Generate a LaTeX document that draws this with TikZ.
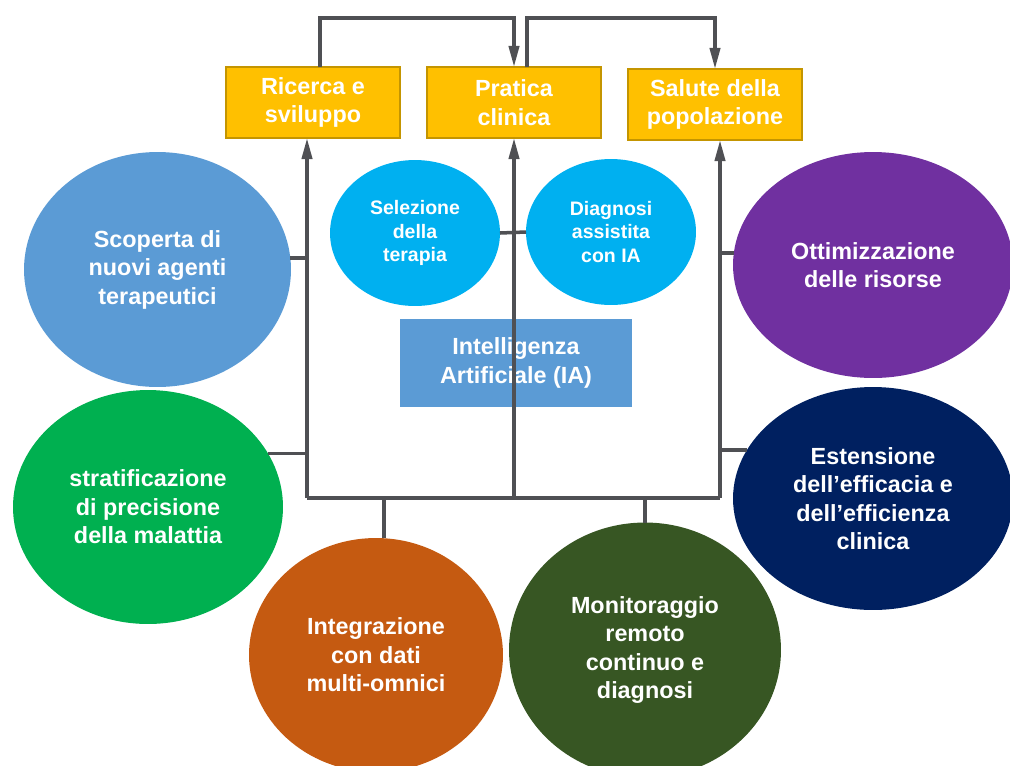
\documentclass[tikz,border=0pt]{standalone}
\usepackage{fontspec}
\setmainfont{Liberation Sans}
\usetikzlibrary{shapes.geometric,arrows.meta}
\definecolor{gold}{HTML}{FFC000}
\definecolor{goldline}{HTML}{C49500}
\definecolor{wire}{HTML}{4F5054}
\definecolor{sky}{HTML}{5B9BD5}
\definecolor{cyan}{HTML}{00B0F0}
\definecolor{plum}{HTML}{7030A0}
\definecolor{leaf}{HTML}{00B050}
\definecolor{navy}{HTML}{002060}
\definecolor{rust}{HTML}{C55A11}
\definecolor{moss}{HTML}{375623}
\begin{document}
\begin{tikzpicture}[x=0.02cm,y=-0.02cm,
  every node/.style={text=white,font=\bfseries\fontsize{13.3}{16.2}\selectfont,align=center,inner sep=0pt,outer sep=0pt},
  goal/.style={draw=goldline,line width=1.1pt,fill=gold,minimum width=3.48cm,minimum height=1.42cm},
  blob/.style={ellipse,fill=#1},
  small/.style={font=\bfseries\fontsize{11.1}{13.3}\selectfont},
  link/.style={draw=wire,line width=2pt},
  flow/.style={link,-{Triangle[length=12pt,width=5.8pt]}}]
\useasboundingbox (0,0) rectangle (1010,765);
\clip (0,0) rectangle (1010,765);

\node[goal] (ricerca) at (313,102.5) {Ricerca e\\sviluppo};
\node[goal] (pratica) at (514,102.5) {Pratica\\clinica};
\node[goal] (salute) at (715,104.5) {Salute della\\popolazione};

\node[blob=sky,minimum width=5.34cm,minimum height=4.7cm] (scoperta) at (157.5,269.5) {Scoperta di\\nuovi agenti\\terapeutici};
\node[blob=leaf,minimum width=5.4cm,minimum height=4.68cm] (strat) at (148,507) {stratificazione\\di precisione\\della malattia};
\node[blob=cyan,small,minimum width=3.4cm,minimum height=2.92cm] (selez) at (415,233) {Selezione\\della\\terapia};
\node[blob=cyan,small,minimum width=3.4cm,minimum height=2.92cm] (diagn) at (611,232) {Diagnosi\\assistita\\con IA};
\node[fill=sky,minimum width=4.64cm,minimum height=1.76cm] (ia) at (516,363) {Intelligenza\\Artificiale (IA)};
\node[blob=plum,minimum width=5.6cm,minimum height=4.52cm] (ottim) at (873,265) {Ottimizzazione\\delle risorse};
\node[blob=navy,minimum width=5.6cm,minimum height=4.46cm] (esten) at (873,498.5) {Estensione\\dell’efficacia e\\dell’efficienza\\clinica};
\node[blob=rust,minimum width=5.08cm,minimum height=4.68cm] (integ) at (376,655) {Integrazione\\con dati\\multi-omnici};
\node[blob=moss,minimum width=5.44cm,minimum height=5.1cm] (monit) at (645,650) {Monitoraggio\\remoto\\continuo e\\diagnosi};

\coordinate (jl) at (307,498);
\coordinate (jm) at (514,498);
\coordinate (jr) at (720,498);
\coordinate (t1) at (320,18);
\coordinate (t2) at (527,18);

\draw[link] (jl) -- (jr);
\draw[flow] (jl) -- (jl |- ricerca.south);
\draw[flow] (jm) -- (jm |- pratica.south);
\draw[flow] (jr) -- (jr |- salute.south);
\draw[flow] (ricerca.north -| t1) -- (t1) -| (pratica.north);
\draw[flow] (pratica.north -| t2) -- (t2) -| (salute.north);
\draw[link] (selez.east) -- (diagn.west);
\draw[link] (scoperta.5) -- (scoperta.5 -| jl);
\draw[link] (strat.24) -- (strat.24 -| jl);
\draw[link] (ottim.175) -- (ottim.175 -| jr);
\draw[link] (esten.159) -- (esten.159 -| jr);
\draw[link] (integ.86) -- (integ.86 |- jl);
\draw[link] (monit.north) -- (monit.north |- jr);
\end{tikzpicture}
\end{document}
